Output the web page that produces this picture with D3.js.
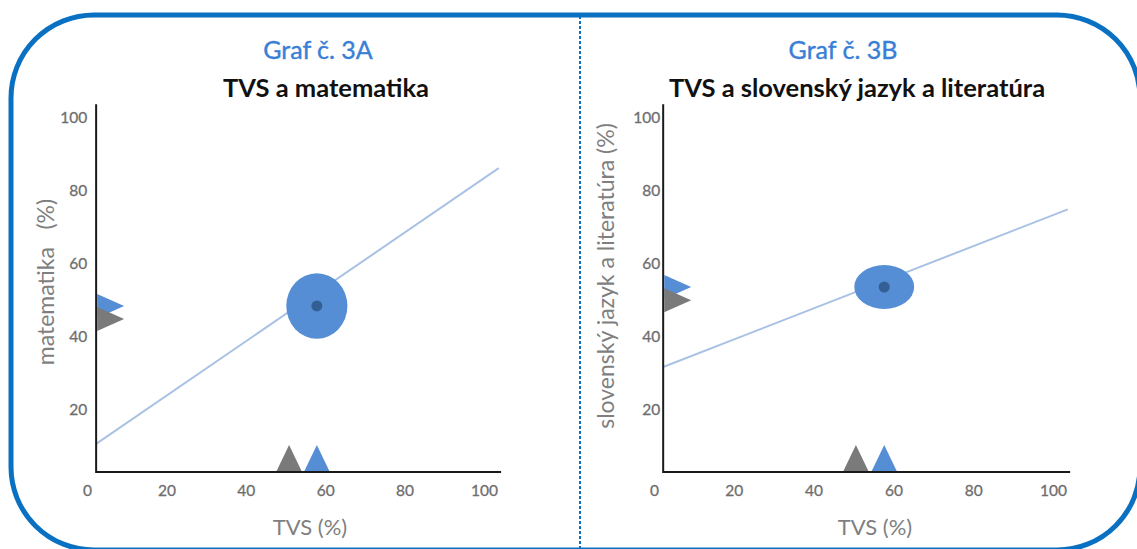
<!DOCTYPE html>
<html>
<head>
<meta charset="utf-8">
<script src="https://cdn.jsdelivr.net/npm/d3@7"></script>
<style>
  body { margin: 0; background: #fff; }
  svg text { font-family: Lato, "Open Sans", sans-serif; }
</style>
</head>
<body>
<svg id="chart" width="1137" height="549"></svg>
<script>
// chart texts
var graphNames = ["Graf č. 3A", "Graf č. 3B"];
var titles = ["TVS a matematika", "TVS a slovenský jazyk a literatúra"];
var yTitles = ["matematika   (%)", "slovenský jazyk a literatúra (%)"];
var xTitle = "TVS (%)";
var xTicks = [0, 20, 40, 60, 80, 100];
var yTicks = [20, 40, 60, 80, 100];

// school (blue) mean and spread, national (gray) mean
var schoolTVS = [57.9, 57.7];
var schoolSubject = [48.5, 53.7];
var spreadTVS = [7.7, 7.5];
var spreadSubject = [9.0, 6.0];
var nationalTVS = [50.9, 50.6];
var nationalSubject = [44.9, 50.1];

// regression line: subject = intercept + slope * TVS
var trendIntercept = [9.0, 30.8];
var trendSlope = [0.745, 0.426];

var svg = d3.select("#chart");
var blue = "#558ed5", gray = "#7a7a7a", frameBlue = "#0a70c2";

// outer rounded frame and dashed divider
svg.append("rect")
  .attr("x", 11).attr("y", 15)
  .attr("width", 1129).attr("height", 535)
  .attr("rx", 83).attr("ry", 83)
  .attr("fill", "none")
  .attr("stroke", frameBlue)
  .attr("stroke-width", 5);

svg.append("line")
  .attr("x1", 580).attr("x2", 580)
  .attr("y1", 16).attr("y2", 549)
  .attr("stroke", frameBlue)
  .attr("stroke-width", 2)
  .attr("stroke-dasharray", "3,2");

// per panel layout
var panels = [
  { x0: 87, x100: 484, labelGap: 9, yTitleX: 46, yTitleY: 282, nameX: 318, titleX: 326, xTitleX: 310 },
  { x0: 654, x100: 1053, labelGap: 3, yTitleX: 606, yTitleY: 276, nameX: 843, titleX: 857, xTitleX: 875 }
];
var xDomainMin = 2.3, xDomainMax = 104.3;
var yDomainMin = 3.0, yDomainMax = 103.8;

var y = d3.scaleLinear().domain([0, 100]).range([483, 118]);

panels.forEach(function(p, i) {
  var x = d3.scaleLinear().domain([0, 100]).range([p.x0, p.x100]);
  var g = svg.append("g");

  // headings
  g.append("text")
    .attr("x", p.nameX).attr("y", 59)
    .attr("text-anchor", "middle")
    .attr("fill", "#3a7fd6")
    .attr("stroke", "#3a7fd6")
    .attr("stroke-width", 0.4)
    .style("font-size", "25px")
    .text(graphNames[i]);

  g.append("text")
    .attr("x", p.titleX).attr("y", 97)
    .attr("text-anchor", "middle")
    .attr("fill", "#111")
    .style("font-size", "25.5px")
    .style("font-weight", "bold")
    .text(titles[i]);

  // regression line
  g.append("line")
    .attr("x1", x(xDomainMin))
    .attr("y1", y(trendIntercept[i] + trendSlope[i] * xDomainMin))
    .attr("x2", x(xDomainMax - 0.6))
    .attr("y2", y(trendIntercept[i] + trendSlope[i] * (xDomainMax - 0.6)))
    .attr("stroke", "#a9c2e4")
    .attr("stroke-width", 2);

  // school ellipse with mean dot
  g.append("ellipse")
    .attr("cx", x(schoolTVS[i]))
    .attr("cy", y(schoolSubject[i]))
    .attr("rx", x(spreadTVS[i]) - x(0))
    .attr("ry", y(0) - y(spreadSubject[i]))
    .attr("fill", blue);

  g.append("circle")
    .attr("cx", x(schoolTVS[i]))
    .attr("cy", y(schoolSubject[i]))
    .attr("r", 5.5)
    .attr("fill", "#345f95");

  // axes lines
  var axisX = x(xDomainMin), axisY = y(yDomainMin);
  g.append("line")
    .attr("x1", axisX).attr("x2", axisX)
    .attr("y1", y(yDomainMax)).attr("y2", axisY + 1)
    .attr("stroke", "#1a1a1a").attr("stroke-width", 2);
  g.append("line")
    .attr("x1", axisX).attr("x2", x(xDomainMax))
    .attr("y1", axisY).attr("y2", axisY)
    .attr("stroke", "#1a1a1a").attr("stroke-width", 2);

  // triangles on x axis (TVS)
  var tw = 12.5, th = 26;
  [[nationalTVS[i], gray], [schoolTVS[i], blue]].forEach(function(d) {
    var cx = x(d[0]);
    g.append("path")
      .attr("d", "M" + (cx - tw) + "," + (axisY - 1) + "L" + cx + "," + (axisY - 1 - th) +
        "L" + (cx + tw) + "," + (axisY - 1) + "Z")
      .attr("fill", d[1]);
  });

  // triangles on y axis (subject), gray drawn over blue
  var sh = 12, sw = 27;
  [[schoolSubject[i], blue], [nationalSubject[i], gray]].forEach(function(d) {
    var cy = y(d[0]);
    g.append("path")
      .attr("d", "M" + (axisX + 1) + "," + (cy - sh) + "L" + (axisX + 1 + sw) + "," + cy +
        "L" + (axisX + 1) + "," + (cy + sh) + "Z")
      .attr("fill", d[1]);
  });

  // tick labels through d3 axes
  var xAxis = g.append("g")
    .attr("transform", "translate(0,485)")
    .call(d3.axisBottom(x).tickValues(xTicks).tickSize(0).tickPadding(0));
  xAxis.select(".domain").remove();
  xAxis.selectAll("text")
    .attr("dy", "0.71em")
    .attr("fill", "#6e6e6e")
    .attr("stroke", "#6e6e6e")
    .attr("stroke-width", 0.3)
    .style("font-size", "15.5px")
    .style("font-family", "Lato, sans-serif");

  var yAxis = g.append("g")
    .attr("transform", "translate(" + (axisX - p.labelGap) + ",0)")
    .call(d3.axisLeft(y).tickValues(yTicks).tickSize(0).tickPadding(0));
  yAxis.select(".domain").remove();
  yAxis.selectAll("text")
    .attr("fill", "#6e6e6e")
    .attr("stroke", "#6e6e6e")
    .attr("stroke-width", 0.3)
    .style("font-size", "15.5px")
    .style("font-family", "Lato, sans-serif");

  // axis titles
  g.append("text")
    .attr("x", p.xTitleX).attr("y", 535)
    .attr("text-anchor", "middle")
    .attr("fill", "#7f7f7f")
    .style("font-size", "22px")
    .text(xTitle);

  g.append("text")
    .attr("transform", "translate(" + p.yTitleX + "," + p.yTitleY + ") rotate(-90)")
    .attr("text-anchor", "middle")
    .attr("dy", "0.35em")
    .attr("fill", "#7f7f7f")
    .style("font-size", "23px")
    .style("white-space", "pre")
    .text(yTitles[i]);
});
</script>
</body>
</html>
